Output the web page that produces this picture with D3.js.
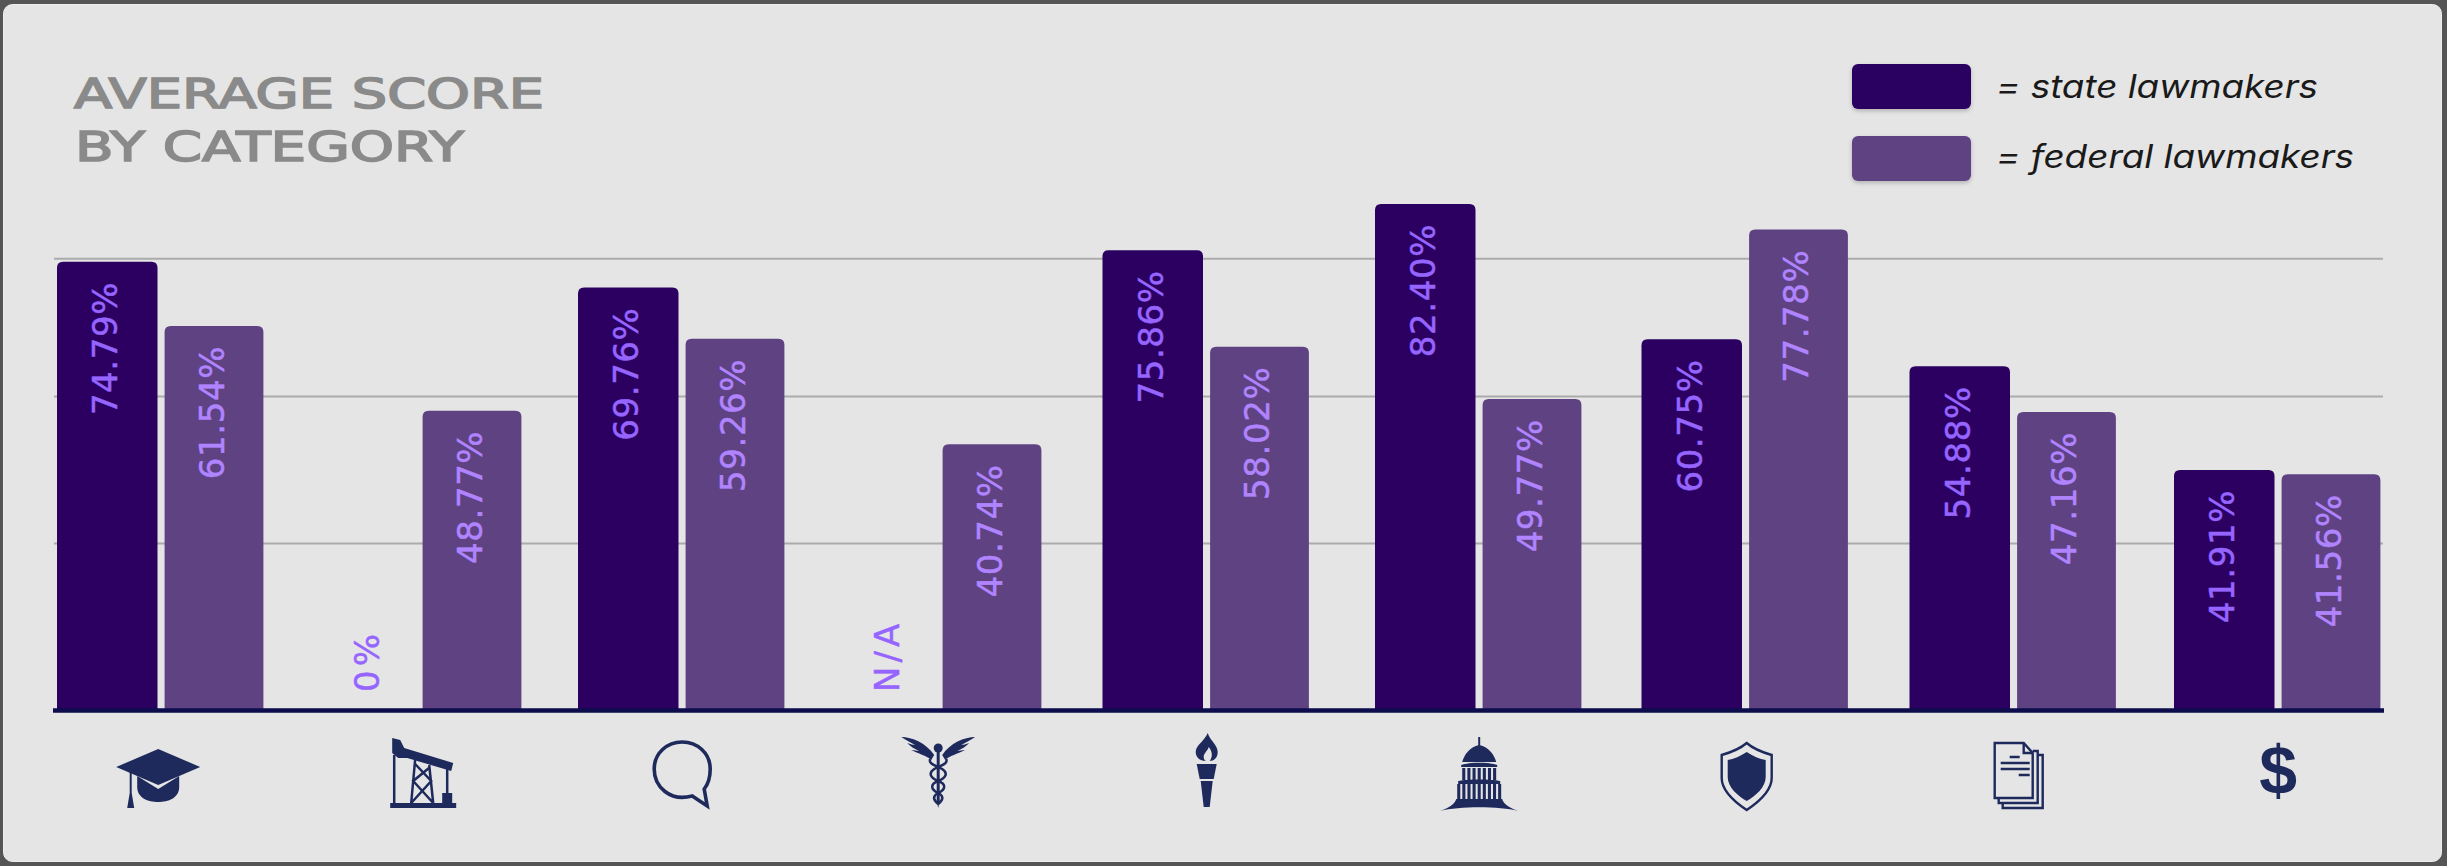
<!DOCTYPE html>
<html>
<head>
<meta charset="utf-8">
<title>Average score by category</title>
<script src="https://d3js.org/d3.v7.min.js"></script>
<style>
  body { margin: 0; background: #555; }
  svg { display: block; }
</style>
</head>
<body>
<svg id="chart" width="2447" height="866"></svg>
<script>
"use strict";

var categories = ["education", "energy", "speech", "health", "liberty", "government", "defense", "documents", "economy"];
var seriesNames = ["= state lawmakers", "= federal lawmakers"];

// printed labels, as they stand on the bars
var stateLabels = ["74.79%", "0%", "69.76%", "N/A", "75.86%", "82.40%", "60.75%", "54.88%", "41.91%"];
var federalLabels = ["61.54%", "48.77%", "59.26%", "40.74%", "58.02%", "49.77%", "77.78%", "47.16%", "41.56%"];

// bar lengths: the drawn bars do not follow their printed labels exactly
var stateBars = [73.3, 0, 69.1, 0, 75.2, 82.8, 60.6, 56.2, 39.2];
var federalBars = [62.8, 48.9, 60.7, 43.4, 59.4, 50.8, 78.6, 48.7, 38.5];
var gridValues = [73.9, 51.3, 27.2];

var navy = "#1f2a5c";
var base = 709;

var svg = d3.select("#chart");

svg.append("rect")
    .attr("x", 3.5).attr("y", 4.5)
    .attr("width", 2438).attr("height", 857)
    .attr("rx", 9)
    .attr("fill", "#e5e5e5")
    .attr("stroke", "#efefef");

var defs = svg.append("defs");
var shadow = defs.append("filter").attr("id", "soft")
    .attr("x", "-10%").attr("y", "-20%").attr("width", "120%").attr("height", "150%");
shadow.append("feDropShadow")
    .attr("dx", 0).attr("dy", 2).attr("stdDeviation", 2)
    .attr("flood-color", "#000").attr("flood-opacity", 0.22);

var y = d3.scaleLinear().domain([0, 100]).range([base, base - 610]);

// groups are not evenly spaced in the original, so the scale gets explicit stops
var x = d3.scaleOrdinal()
    .domain(categories)
    .range([57, 315, 578, 835, 1102.5, 1375, 1641.5, 1909.5, 2174]);

var stateWidth = 100.5,
    federalWidth = 98.8,
    federalOffset = 107.6,
    groupWidth = federalOffset + federalWidth;

// gridlines
var grid = svg.append("g")
    .attr("transform", "translate(54,0)")
    .call(d3.axisLeft(y).tickValues(gridValues).tickSize(-2329).tickFormat(""));
grid.select(".domain").remove();
grid.selectAll("line").attr("stroke", "#ababab").attr("stroke-width", 2);

function topRounded(x0, w, y0, r) {
  var p = d3.path();
  p.moveTo(x0, base);
  p.lineTo(x0, y0 + r);
  p.quadraticCurveTo(x0, y0, x0 + r, y0);
  p.lineTo(x0 + w - r, y0);
  p.quadraticCurveTo(x0 + w, y0, x0 + w, y0 + r);
  p.lineTo(x0 + w, base);
  p.closePath();
  return p.toString();
}

function drawSeries(values, labels, offset, width, color, labelColor) {
  var g = svg.append("g");

  g.selectAll("path")
      .data(values.filter(function(d) { return d > 0; }).map(function(d) {
        return { v: d, c: categories[values.indexOf(d)] };
      }))
    .enter().append("path")
      .attr("d", function(d) { return topRounded(x(d.c) + offset, width, y(d.v), 6); })
      .attr("fill", color);

  g.selectAll("text")
      .data(labels)
    .enter().append("text")
      .attr("transform", function(d, i) {
        var cx = x(categories[i]) + offset + width / 2 - 2.5;
        var top = values[i] > 0 ? y(values[i]) + 20 : null;
        return top === null ? "translate(" + (cx + 4) + "," + (base - 17) + ") rotate(-90)"
                            : "translate(" + cx + "," + top + ") rotate(-90)";
      })
      .attr("dy", ".36em")
      .attr("text-anchor", function(d, i) { return values[i] > 0 ? "end" : "start"; })
      .attr("fill", labelColor)
      .attr("stroke", labelColor)
      .attr("stroke-width", 0.5)
      .style("font-family", "'DejaVu Sans'")
      .style("font-size", "34px")
      .style("letter-spacing", function(d, i) { return values[i] > 0 ? "0.6px" : "4px"; })
      .text(function(d) { return d; });
}

drawSeries(stateBars, stateLabels, 0, stateWidth, "#2b0060", "#9664ff");
drawSeries(federalBars, federalLabels, federalOffset, federalWidth, "#5e4282", "#b184ff");

// base line
svg.append("line")
    .attr("x1", 53).attr("x2", 2384)
    .attr("y1", base + 1.5).attr("y2", base + 1.5)
    .attr("stroke", "#0d0d4d").attr("stroke-width", 4.5);

// title
var titleLines = [["AVERAGE SCORE", 74, 108, 470], ["BY CATEGORY", 75, 161, 389]];
svg.selectAll(".title")
    .data(titleLines)
  .enter().append("text")
    .attr("class", "title")
    .attr("x", function(d) { return d[1]; })
    .attr("y", function(d) { return d[2]; })
    .attr("textLength", function(d) { return d[3]; })
    .attr("lengthAdjust", "spacingAndGlyphs")
    .attr("fill", "#8a8a8a")
    .attr("stroke", "#8a8a8a")
    .attr("stroke-width", 1.6)
    .style("font-family", "'DejaVu Sans'")
    .style("font-size", "41px")
    .text(function(d) { return d[0]; });

// legend
var legendRows = [[64, "#2b0060", 98, 322], [136, "#5e4282", 168, 358]];
var legend = svg.selectAll(".legend")
    .data(legendRows)
  .enter().append("g")
    .attr("class", "legend");
legend.append("rect")
    .attr("x", 1852).attr("y", function(d) { return d[0]; })
    .attr("width", 119).attr("height", 45)
    .attr("rx", 6)
    .attr("fill", function(d) { return d[1]; })
    .attr("filter", "url(#soft)");
legend.append("text")
    .attr("x", 1996).attr("y", function(d) { return d[2]; })
    .attr("textLength", function(d) { return d[3]; })
    .attr("lengthAdjust", "spacingAndGlyphs")
    .attr("fill", "#1a1a1a")
    .style("font-family", "Inter")
    .style("font-style", "italic")
    .style("font-weight", 400)
    .style("font-size", "32px")
    .text(function(d, i) { return seriesNames[i]; });

// icons, one per category, drawn around their own centre
function columns(y0, y1, half, n) {
  var step = 2 * half / n, out = "";
  d3.range(n).forEach(function(i) {
    out += "M" + (-half + i * step + step * 0.2) + "," + y0 + "h" + (step * 0.6) + "V" + y1 + "h" + (-step * 0.6) + "Z";
  });
  return out;
}

var icons = {
  education: { dx: -2, fill: [
      "M0,-24L42,-6L0,12L-42,-6Z",
      "M-21,3L0,16L21,3V14C21,25 10,29 0,29C-10,29 -21,25 -21,14Z",
      "M-28.5,-4h2V20l2.5,15h-7l2.5,-15Z"] },
  energy: { dx: 5,
    fill: [
      "M-33,30H33V35H-33Z",
      "M-31,-35L-23,-33L-19,-25L30,-10L28,-2L-16,-15L-25,-15L-31,-20Z",
      "M19,20h10v10h-10Z"],
    stroke: ["M-29,-18V30M24,-6V22", "M-12,30L-8,-14M10,30L6,-8M-12,30L8,8L-9,-10M10,30L-10,8L7,-6"],
    width: 2.5 },
  speech: { dx: 1,
    stroke: ["M10,23C-12,29 -28,14 -28,-4C-28,-20 -15,-31 0,-31C15,-31 28,-20 28,-4C28,5 26,11 22,16L25,33Z"],
    width: 3.6 },
  health: { dx: 0,
    fill: [
      "M-37,-36C-26,-36 -12,-30 -4,-18L-7,-13C-12,-18 -20,-19 -27,-23C-24,-23 -21,-22 -19,-22C-24,-24 -28,-27 -31,-30C-28,-29 -25,-28 -23,-28C-28,-31 -33,-33 -37,-36Z",
      "M37,-36C26,-36 12,-30 4,-18L7,-13C12,-18 20,-19 27,-23C24,-23 21,-22 19,-22C24,-24 28,-27 31,-30C28,-29 25,-28 23,-28C28,-31 33,-33 37,-36Z",
      "M-1.5,-22H1.5V28L0,35L-1.5,28Z",
      "M4.5,-25A4.5,4.5 0 1 1 -4.5,-25A4.5,4.5 0 1 1 4.5,-25Z"],
    stroke: [
      "M-8,-14C-10,-9 -3,-8 4,-4C10,0 8,5 0,8C-8,11 -8,16 0,20C6,23 5,27 0,31",
      "M8,-14C10,-9 3,-8 -4,-4C-10,0 -8,5 0,8C8,11 8,16 0,20C-6,23 -5,27 0,31"],
    width: 2.5 },
  liberty: { dx: 1, fill: [
      "M1,-40C3,-33 11,-28 11,-21C11,-15 7,-12 3,-12C6,-16 6,-21 2,-26C1,-22 -3,-20 -3,-16C-3,-14 -2,-13 -1,-12C-7,-12 -11,-16 -11,-21C-11,-28 -2,-32 1,-40Z",
      "M-10,-9H10L7,6H-7Z",
      "M-6,8H6L3,34H-3Z"] },
  government: { dx: 1, fill: [
      "M-1,-36h2v9h-2Z",
      "M0,-28C-10,-26 -15,-18 -17,-11H17C15,-18 10,-26 0,-28Z",
      "M-18,-8C-10,-11 10,-11 18,-8V-6H-18Z",
      columns(-5, 7, 18, 7),
      "M-21,8C-12,6 12,6 21,8V11H-21Z",
      columns(11, 26, 23, 9),
      "M-39,38C-28,34 -24,30 -23,26H23C24,30 28,34 39,38C20,33 -20,33 -39,38Z"] },
  defense: { dx: 2,
    fill: ["M0,-21C6,-17 13,-14 19,-13V4C19,14 9,23 0,28C-9,23 -19,14 -19,4V-13C-13,-14 -6,-17 0,-21Z"],
    stroke: ["M0,-30C8,-23 18,-20 25,-18V5C25,18 12,29 0,37C-12,29 -25,18 -25,5V-18C-18,-20 -8,-23 0,-30Z"],
    width: 2.4 },
  documents: { dx: 6,
    stroke: [
      "M-24,-30H5L14,-20V25H-24Z",
      "M5,-30V-20H14",
      "M14,-22H19V30H-20V25",
      "M19,-18H24V35H-16V30",
      "M-9,-16H1M-18,-10H11M-18,-4H11M0,2H11"],
    width: 2.4 },
  economy: { dx: 1 }
};

var iconGroups = svg.selectAll(".icon")
    .data(categories)
  .enter().append("g")
    .attr("class", "icon")
    .attr("transform", function(d) {
      return "translate(" + (x(d) + groupWidth / 2 + icons[d].dx) + "," + (base + 64) + ")";
    });

iconGroups.each(function(d) {
  var g = d3.select(this), ic = icons[d];
  (ic.fill || []).forEach(function(s) {
    g.append("path").attr("d", s).attr("fill", navy);
  });
  (ic.stroke || []).forEach(function(s) {
    g.append("path").attr("d", s).attr("fill", "none")
        .attr("stroke", navy).attr("stroke-width", ic.width);
  });
});

iconGroups.filter(function(d) { return d === "economy"; })
  .append("text")
    .attr("text-anchor", "middle")
    .attr("y", 21)
    .attr("fill", navy)
    .style("font-family", "'Liberation Sans'")
    .style("font-weight", "bold")
    .style("font-size", "68px")
    .text("$");
</script>
</body>
</html>
